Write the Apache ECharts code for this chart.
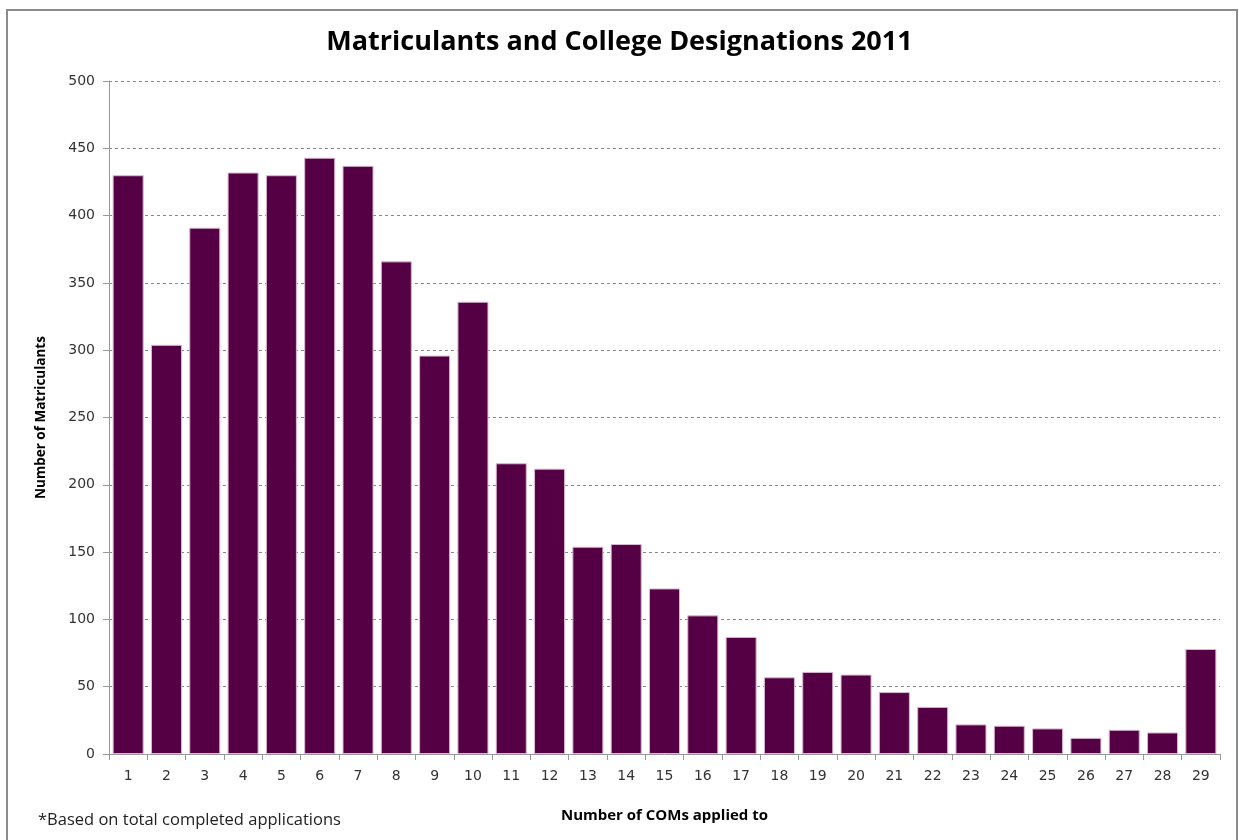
<!DOCTYPE html>
<html><head><meta charset="utf-8">
<script src="https://cdn.jsdelivr.net/npm/echarts@6/dist/echarts.min.js"></script>
<style>html,body{margin:0;padding:0;background:#fff}#c{width:1239px;height:840px}</style>
</head><body><div id="c"></div>
<script>
const categories = ['1','2','3','4','5','6','7','8','9','10','11','12','13','14','15','16','17','18','19','20','21','22','23','24','25','26','27','28','29'];
const matriculants = [430,304,391,432,430,443,437,366,296,336,216,212,154,156,123,103,87,57,61,59,46,35,22,21,19,12,18,16,78];
const yTicks = {min:0, max:500, interval:50};
const titleText = 'Matriculants and College Designations 2011';
const xName = 'Number of COMs applied to';
const yName = 'Number of Matriculants';
const footnote = '*Based on total completed applications';

const chart = echarts.init(document.getElementById('c'));
const FONT = '"Open Sans", sans-serif';
const TICKFONT = '"DejaVu Sans", sans-serif';
chart.setOption({
  animation:false,
  backgroundColor:'#fff',
  title:{text:titleText,left:'center',top:24,textStyle:{fontFamily:FONT,fontWeight:'bold',fontSize:27,color:'#000'}},
  grid:{left:109,right:19,top:81,bottom:86},
  graphic:[
    {type:'rect',shape:{x:7,y:10,width:1230,height:840},style:{fill:'none',stroke:'#8c8c8c',lineWidth:2},silent:true},
    {type:'text',left:38,top:812,style:{text:footnote,font:'16.5px '+FONT,fill:'#222'}}
  ],
  xAxis:{type:'category',data:categories,name:xName,nameLocation:'middle',nameGap:54,
    nameTextStyle:{fontFamily:FONT,fontWeight:'bold',fontSize:15,color:'#000'},
    axisLine:{lineStyle:{color:'#999'}},axisTick:{show:true,length:6,lineStyle:{color:'#999'}},
    axisLabel:{fontFamily:TICKFONT,fontSize:14,color:'#333',margin:15}},
  yAxis:{type:'value',min:yTicks.min,max:yTicks.max,interval:yTicks.interval,name:yName,nameLocation:'middle',nameGap:61,
    nameTextStyle:{fontFamily:FONT,fontWeight:'bold',fontSize:13.5,color:'#000'},
    axisLine:{show:true,lineStyle:{color:'#999'}},axisTick:{show:true,length:6,lineStyle:{color:'#999'}},
    axisLabel:{fontFamily:TICKFONT,fontSize:14,color:'#333',margin:14},
    splitLine:{lineStyle:{color:'#888',type:[3,3],width:1}}},
  series:[{type:'bar',data:matriculants,barCategoryGap:'19%',
    itemStyle:{color:'#550044',borderColor:'#d8b8d0',borderWidth:1}}]
});
</script></body></html>
